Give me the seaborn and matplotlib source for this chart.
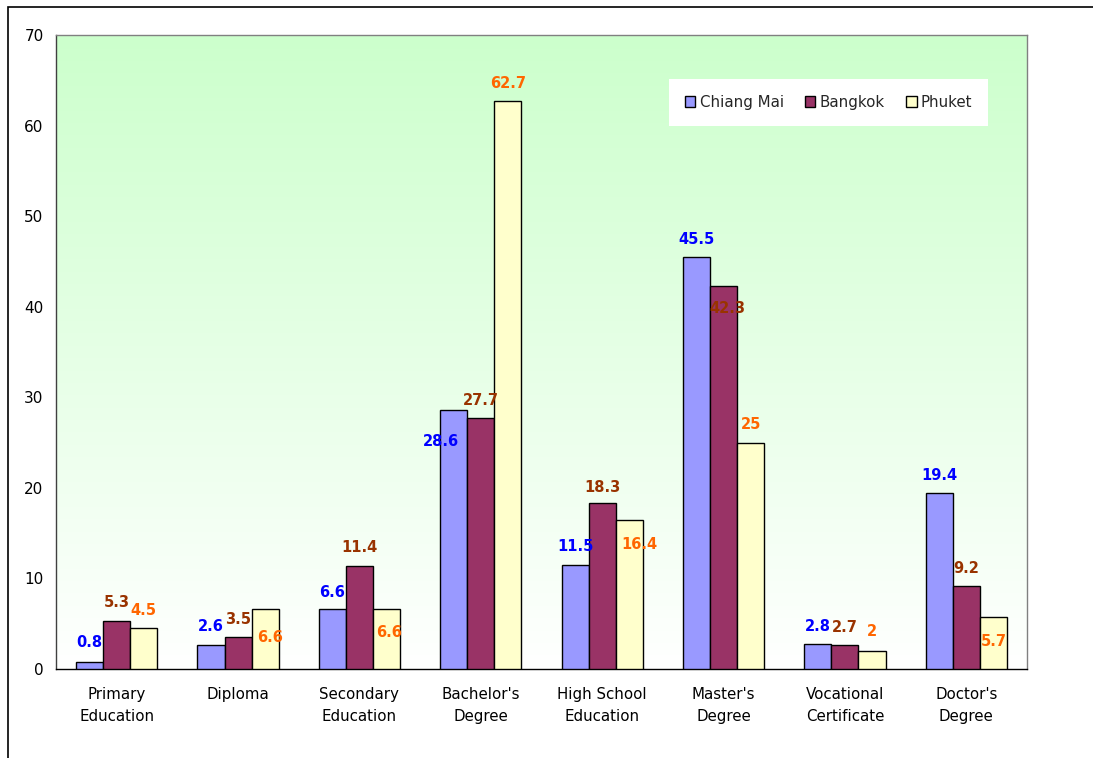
import numpy as np
import pandas as pd
import matplotlib
matplotlib.use("Agg")
import matplotlib.pyplot as plt
from matplotlib.patches import Rectangle
from matplotlib.ticker import FixedLocator
import seaborn as sns

# data
categories = ["Primary\nEducation", "Diploma", "Secondary\nEducation", "Bachelor's\nDegree",
              "High School\nEducation", "Master's\nDegree", "Vocational\nCertificate", "Doctor's\nDegree"]
cities = ["Chiang Mai", "Bangkok", "Phuket"]
chiang_mai = [0.8, 2.6, 6.6, 28.6, 11.5, 45.5, 2.8, 19.4]
bangkok = [5.3, 3.5, 11.4, 27.7, 18.3, 42.3, 2.7, 9.2]
phuket = [4.5, 6.6, 6.6, 62.7, 16.4, 25, 2, 5.7]

bar_colors = ["#9999FF", "#993366", "#FFFFCC"]
label_colors = ["#0000FF", "#993300", "#FF6600"]

# label shifts (pixels) to mimic the original label placement
label_shift = [
    [(0, 19), (0, 19), (0, 17), (-13, -32), (0, 18), (0, 17), (0, 17), (0, 18)],
    [(0, 18), (0, 18), (0, 18), (0, 18), (0, 16), (4, -23), (0, 17), (0, 17)],
    [(0, 18), (5, -28), (3, -23), (0, 18), (10, -24), (0, 18), (0, 19), (0, -24)],
]

df = pd.DataFrame({
    "category": categories * 3,
    "city": np.repeat(cities, len(categories)),
    "value": chiang_mai + bangkok + phuket,
})

sns.set_style("white")
plt.rcParams["font.family"] = ["DejaVu Sans"]

fig = plt.figure(figsize=(10.93, 7.58), dpi=100)
ax = fig.add_axes([56 / 1093, 1 - 669 / 758, (1027 - 56) / 1093, (669 - 35) / 758])

# outer chart border
fig.patches.append(Rectangle((8 / 1093, -0.1), 1.2, 1 - 7 / 758 + 0.1, transform=fig.transFigure,
                             fill=False, edgecolor="black", linewidth=1.2))

sns.barplot(data=df, x="category", y="value", hue="city", palette=bar_colors,
            width=0.67, edgecolor="black", linewidth=1.0, ax=ax, zorder=3, saturation=1)

# gradient background
grad = np.linspace(0, 1, 256).reshape(-1, 1)
cmap = matplotlib.colors.LinearSegmentedColormap.from_list("g", ["#FFFFFF", "#CCFFCC"])
ax.imshow(grad, aspect="auto", cmap=cmap, origin="lower",
          extent=(-0.5, len(categories) - 0.5, 0, 70), zorder=0)

ax.set_xlim(-0.5, len(categories) - 0.5)
ax.set_ylim(0, 70)
ax.set_yticks(range(0, 71, 10))
ax.set_xlabel("")
ax.set_ylabel("")

for i, cont in enumerate(ax.containers):
    for j, bar in enumerate(cont):
        dx, dy = label_shift[i][j]
        val = [chiang_mai, bangkok, phuket][i][j]
        ax.annotate(f"{val:g}", xy=(bar.get_x() + bar.get_width() / 2, bar.get_height()),
                    xytext=(dx, dy), textcoords="offset pixels", ha="center", va="center",
                    fontsize=10.5, fontweight="bold", color=label_colors[i], zorder=5)

# axes styling
for s in ["top", "right"]:
    ax.spines[s].set_color("#808080")
ax.spines["left"].set_color("#404040")
ax.spines["bottom"].set_color("black")
for s in ax.spines.values():
    s.set_linewidth(1.0)
    s.set_visible(True)

ax.tick_params(axis="y", which="major", direction="out", length=5, width=1, color="#404040",
               labelcolor="black", labelsize=11, pad=4)
ax.xaxis.set_minor_locator(FixedLocator(np.arange(-0.5, len(categories), 1)))
ax.tick_params(axis="x", which="major", length=0, pad=13, labelsize=10.8, labelcolor="black")
ax.tick_params(axis="x", which="minor", direction="out", length=6, width=1, color="black")
for t in ax.get_xticklabels():
    t.set_linespacing(1.55)

leg = ax.legend(loc="upper left", bbox_to_anchor=((669 - 56) / (1027 - 56), 1 - (79 - 35) / 634),
                ncol=3, frameon=True, fancybox=False, framealpha=1, edgecolor="white",
                fontsize=10.8, handlelength=0.7, handleheight=0.7, handletextpad=0.3,
                columnspacing=1.4, borderpad=1.05, borderaxespad=0)
leg.get_frame().set_linewidth(0)
for h in leg.legend_handles:
    h.set_edgecolor("black")
    h.set_linewidth(1.0)
leg.set_zorder(6)

fig.savefig("out.png", dpi=100)
